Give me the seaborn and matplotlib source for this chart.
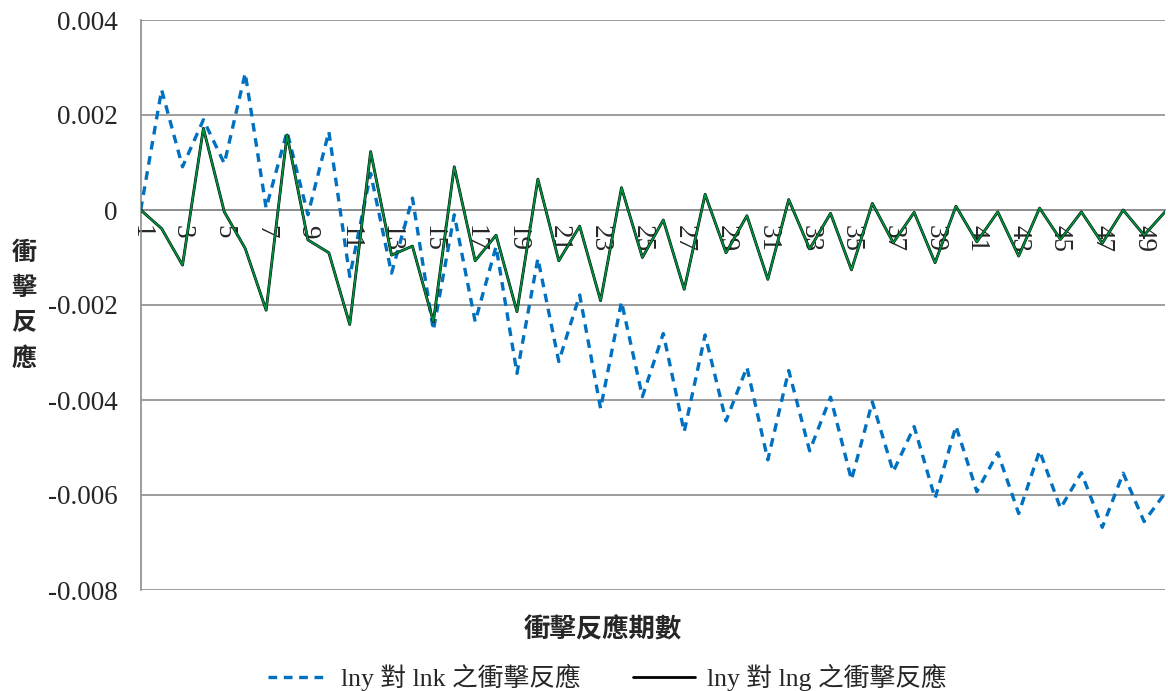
import numpy as np
import pandas as pd
import matplotlib
matplotlib.use("Agg")
import matplotlib.pyplot as plt
import seaborn as sns

# Impulse response periods and responses
periods = list(range(1, 51))

lnk_response = [
    0.0, 0.00253, 0.00091, 0.00190, 0.00098, 0.00288, 0.00004, 0.00165, -0.00010, 0.00165,
    -0.00140, 0.00077, -0.00133, 0.00025, -0.00253, -0.00010, -0.00235, -0.00077, -0.00344, -0.00102,
    -0.00319, -0.00179, -0.00418, -0.00193, -0.00393, -0.00260, -0.00467, -0.00263, -0.00444, -0.00331,
    -0.00526, -0.00338, -0.00507, -0.00394, -0.00568, -0.00404, -0.00551, -0.00456, -0.00607, -0.00455,
    -0.00593, -0.00511, -0.00639, -0.00507, -0.00628, -0.00553, -0.00668, -0.00554, -0.00656, -0.00596,
]

lng_response = [
    0.0, -0.00039, -0.00116, 0.00172, -0.00004, -0.00081, -0.00211, 0.00158, -0.00063, -0.00090,
    -0.00241, 0.00123, -0.00095, -0.00076, -0.00235, 0.00091, -0.00107, -0.00053, -0.00214, 0.00065,
    -0.00107, -0.00034, -0.00191, 0.00047, -0.00100, -0.00021, -0.00167, 0.00033, -0.00090, -0.00012,
    -0.00146, 0.00022, -0.00082, -0.00007, -0.00126, 0.00014, -0.00069, -0.00005, -0.00111, 0.00008,
    -0.00067, -0.00004, -0.00097, 0.00004, -0.00062, -0.00004, -0.00070, 0.00000, -0.00053, -0.00004,
]

y_ticks = [0.004, 0.002, 0, -0.002, -0.004, -0.006, -0.008]
y_tick_labels = ["0.004", "0.002", "0", "-0.002", "-0.004", "-0.006", "-0.008"]

series_lnk = "lny 對 lnk 之衝擊反應"
series_lng = "lny 對 lng 之衝擊反應"
x_title = "衝擊反應期數"
y_title = "衝擊反應"

df = pd.DataFrame({"period": periods, "lnk": lnk_response, "lng": lng_response})

sns.set_style("white")
plt.rcParams["font.family"] = ["Liberation Serif", "Noto Sans CJK TC"]
cjk = ["Noto Sans CJK TC", "Liberation Serif"]
mixed = ["Liberation Serif", "Noto Sans CJK TC"]

fig = plt.figure(figsize=(11.68, 6.91), dpi=100)
W, H = 1168, 691
left, right, top, bottom = 140.7, 1165, 20, 590
ax = fig.add_axes([left / W, 1 - bottom / H, (right - left) / W, (bottom - top) / H])

blue = "#0070C0"
green = "#00913F"
grid_grey = "#8c8c8c"

sns.lineplot(data=df, x="period", y="lnk", ax=ax, color=blue, linewidth=2.4,
             label=series_lnk, zorder=3)
ax.lines[-1].set_dashes([2.6, 2.0])
sns.lineplot(data=df, x="period", y="lng", ax=ax, color="black", linewidth=2.0,
             label=series_lng, zorder=4)
sns.lineplot(data=df, x="period", y="lng", ax=ax, color=green, linewidth=1.3,
             zorder=5, legend=False)

ax.set_xlim(1, 50)
ax.set_ylim(-0.008, 0.004)

# horizontal gridlines
ax.set_yticks(y_ticks)
ax.set_yticklabels(y_tick_labels, fontsize=19.5)
ax.yaxis.grid(True, color=grid_grey, linewidth=1.2)
ax.xaxis.grid(False)
ax.set_axisbelow(True)

for side in ["top", "right"]:
    ax.spines[side].set_visible(False)
ax.spines["left"].set_color(grid_grey)
ax.spines["left"].set_linewidth(1.2)
ax.spines["bottom"].set_position(("data", 0))
ax.spines["bottom"].set_color(grid_grey)
ax.spines["bottom"].set_linewidth(1.2)

ax.tick_params(axis="y", direction="out", length=7, width=1.2, color=grid_grey, pad=9.5)
ax.set_xticks(periods)
ax.set_xticklabels([str(p) if p % 2 == 1 else "" for p in periods],
                   rotation=-90, fontsize=19.5)
ax.tick_params(axis="x", direction="in", length=7, width=1.2, color=grid_grey, pad=11)

ax.set_xlabel("")
ax.set_ylabel("")

fig.text(603 / W, 1 - 630 / H, x_title, ha="center", va="center",
         fontsize=19, fontweight="bold", family=cjk)
fig.text(24 / W, 1 - 306 / H, "\n".join(y_title), ha="center", va="center",
         fontsize=18, fontweight="bold", family=cjk, linespacing=1.6)

ax.get_legend().remove()
handles, labels = ax.get_legend_handles_labels()
fig.legend(handles, labels, loc="center", bbox_to_anchor=(607 / W, 1 - 677 / H),
           ncol=2, frameon=False, prop={"family": mixed, "size": 18.5},
           handlelength=2.4, handletextpad=0.45, columnspacing=2.05)

fig.savefig("out.png", dpi=100)
